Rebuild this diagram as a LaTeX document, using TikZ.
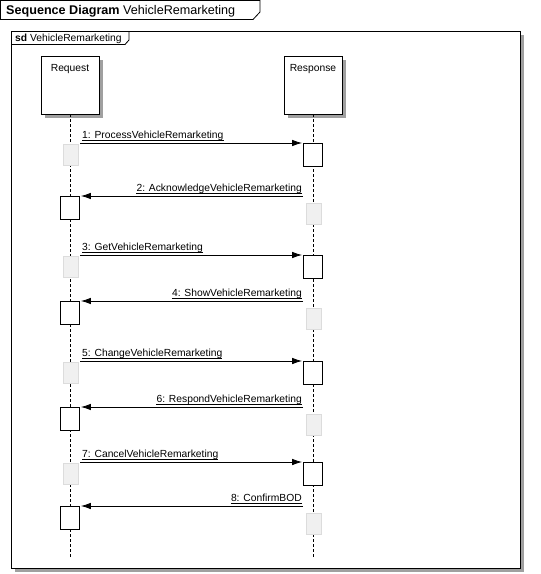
\documentclass[tikz,border=0pt]{standalone}
\usepackage{fontspec}
\setmainfont{Liberation Sans}
\usetikzlibrary{arrows.meta,shadows}
\definecolor{shadowgray}{HTML}{A0A0A0}
\definecolor{ghostfill}{HTML}{F0F0F0}
\definecolor{ghostline}{HTML}{DCDCDC}
\tikzset{
  sh/.style={general shadow={fill=shadowgray, shadow xshift=4pt, shadow yshift=-4pt}},
  headbox/.style={draw, fill=white, sh, minimum width=58pt, minimum height=58pt, inner sep=0pt, line width=0.8pt},
  actbox/.style={draw, fill=white, minimum width=19pt, minimum height=23pt, inner sep=0pt, anchor=north, line width=0.8pt},
  ghost/.style={draw=ghostline, fill=ghostfill, minimum width=15pt, minimum height=21pt, inner sep=0pt, anchor=north},
  lifeline/.style={dash pattern=on 3pt off 2pt, line width=0.8pt},
  msg/.style={line width=0.8pt, -{Latex[length=10pt,width=6.5pt]}, shorten >=1pt},
  lbl/.style={font=\fontsize{10.3}{12}\selectfont, inner sep=0pt},
  uline/.style={line width=0.7pt},
}
\begin{document}
\begin{tikzpicture}[x=1pt,y=-1pt]
\useasboundingbox (0,0) rectangle (541,574);
% outer title tab
\draw[line width=0.8pt] (0.5,0.5) -- (260,0.5) -- (260,12) -- (253,19.5) -- (0.5,19.5) -- cycle;
\node[anchor=base west, inner sep=0pt, font=\fontsize{12.6}{14}\selectfont] (title) at (6,14.5) {\textbf{Sequence Diagram} VehicleRemarketing};
% sd frame
\draw[fill=white, sh, line width=0.8pt] (11,31) rectangle (520,568);
\draw[line width=0.8pt] (11,44.5) -- (125,44.5) -- (129,40) -- (129,31);
\node[anchor=base west, lbl] (sdname) at (15,41.5) {\textbf{sd} VehicleRemarketing};
% lifeline heads
\node[headbox] (req) at (70,85) {};
\node[headbox] (resp) at (313,85) {};
\node[lbl, anchor=base] (reqname) at (70,71) {Request};
\node[lbl, anchor=base] (respname) at (313,71) {Response};
\coordinate (reqend) at (70,558);
\coordinate (respend) at (313,558);
\draw[lifeline] (req.south) -- (reqend);
\draw[lifeline] (resp.south) -- (respend);
% messages
\foreach \i/\y/\t in {1/143/ProcessVehicleRemarketing, 3/255/GetVehicleRemarketing, 5/361/ChangeVehicleRemarketing, 7/462/CancelVehicleRemarketing}{
  \node[ghost] (g\i) at (70.5,\y+1) {};
  \node[actbox] (a\i) at (313,\y) {};
  \coordinate (s\i) at (80,\y);
  \draw[msg] (s\i) -- (a\i.north west);
  \node[lbl, anchor=base west] (l\i) at (82,\y-4.5) {\i: \t};
  \draw[uline] ([yshift=-1.6pt]l\i.base west) -- ([yshift=-1.6pt]l\i.base east);
}
\foreach \i/\y/\t in {2/196/AcknowledgeVehicleRemarketing, 4/301/ShowVehicleRemarketing, 6/407/RespondVehicleRemarketing, 8/506/ConfirmBOD}{
  \node[ghost] (g\i) at (313.5,\y+6.5) {};
  \node[actbox] (a\i) at (70,\y) {};
  \coordinate (s\i) at (303,\y);
  \draw[msg] (s\i) -- (a\i.north east);
  \node[lbl, anchor=base east] (l\i) at (302,\y-4.5) {\i: \t};
  \draw[uline] ([yshift=-1.6pt]l\i.base west) -- ([yshift=-1.6pt]l\i.base east);
}
\end{tikzpicture}
\end{document}
